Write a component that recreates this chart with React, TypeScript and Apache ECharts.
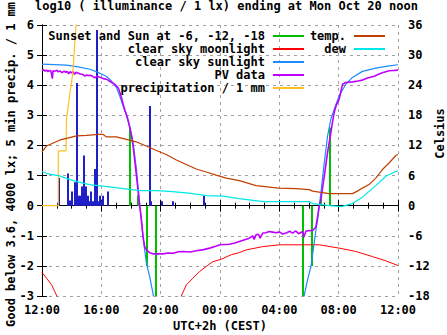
import React, { useEffect, useRef } from 'react';
import * as echarts from 'echarts';

const FONT = '"DejaVu Sans Mono", "Liberation Mono", monospace';

// hours since 12:00 (Sun) ... 24 = Mon 12:00
const xTicks = [0, 4, 8, 12, 16, 20, 24];

// Sunset / sun at -6, -12, -18 (impulses, log10 lx)
const sunEvents = [
  [5.96, 2.6], [6.47, 0.35], [7.08, -2.0], [7.67, -3.0],
  [17.57, -3.0], [18.17, -2.0], [18.8, 0.35], [19.4, 2.6],
];

const moonlight = [
  [0, -2.22], [0.31, -2.41], [0.65, -2.63], [1.0, -3.0], [1.2, -3.4], null,
  [9.2, -3.4], [9.39, -3.0], [9.73, -2.63], [10.17, -2.41], [10.62, -2.19], [11.07, -2.02],
  [11.52, -1.86], [12.08, -1.78], [12.75, -1.63], [13.3, -1.56], [13.76, -1.47],
  [14.88, -1.36], [16.0, -1.3], [18.69, -1.3], [20.03, -1.41], [21.15, -1.52],
  [22.27, -1.69], [23.17, -1.83], [24, -1.99],
];

const sunlight = [
  [0, 4.7], [1.66, 4.67], [2.33, 4.62], [3.23, 4.53], [3.9, 4.4], [4.35, 4.29],
  [4.69, 4.14], [5.02, 3.92], [5.24, 3.64], [5.47, 3.31], [5.69, 3.0], [5.92, 2.59],
  [6.14, 2.09], [6.37, 1.2], [6.47, 0.64], [6.59, 0.03], [6.7, -0.47], [6.81, -1.02],
  [6.92, -1.47], [7.04, -1.91], [7.26, -2.36], [7.48, -2.91], [7.6, -3.3], null,
  [17.6, -3.3], [17.68, -2.97], [17.9, -2.47], [18.13, -2.02], [18.35, -1.24],
  [18.47, -0.8], [18.58, -0.47], [18.69, -0.02], [18.8, 0.42], [19.03, 1.42],
  [19.25, 2.31], [19.47, 2.87], [19.7, 3.2], [20.03, 3.64], [20.48, 4.03],
  [20.93, 4.26], [21.6, 4.46], [22.5, 4.57], [23.4, 4.64], [24, 4.68],
];

const pvData = [
  [0, 4.5], [0.1, 4.52], [0.2, 4.47], [0.3, 4.5], [0.4, 4.45], [0.5, 4.49], [0.6, 4.47],
  [0.7, 4.22], [0.74, 4.48], [0.85, 4.46], [1.0, 4.5], [1.1, 4.44], [1.2, 4.48],
  [1.35, 4.42], [1.5, 4.47], [1.6, 4.43], [1.7, 4.46], [1.8, 4.38], [1.9, 4.45],
  [2.0, 4.41], [2.1, 4.45], [2.2, 4.36], [2.3, 4.43], [2.45, 4.4], [2.6, 4.37],
  [2.75, 4.36], [2.9, 4.3], [3.0, 4.34], [3.1, 4.32], [3.25, 4.33], [3.4, 4.3],
  [3.55, 4.24], [3.7, 4.3], [3.85, 4.27], [4.0, 4.25], [4.2, 4.21], [4.35, 4.2],
  [4.5, 4.15], [4.7, 4.09], [4.85, 4.05], [5.02, 3.98], [5.15, 3.9], [5.25, 3.76],
  [5.35, 3.6], [5.47, 3.37], [5.6, 3.15], [5.69, 3.03], [5.8, 2.85], [5.92, 2.6],
  [6.05, 2.3], [6.14, 1.98], [6.23, 1.6], [6.32, 1.2], [6.4, 0.85], [6.47, 0.53],
  [6.53, 0.25], [6.59, -0.02], [6.7, -0.47], [6.81, -1.02], [6.92, -1.36], [7.04, -1.47],
  [7.26, -1.56], [7.48, -1.6], [8.15, -1.6], [8.5, -1.57], [8.83, -1.58], [9.2, -1.53],
  [9.5, -1.52], [10.0, -1.54], [10.4, -1.5], [10.9, -1.46], [11.3, -1.41], [11.7, -1.35],
  [12.0, -1.3], [12.64, -1.28], [13.0, -1.24], [13.3, -1.19], [13.98, -1.08],
  [14.2, -1.0], [14.3, -1.12], [14.43, -0.97], [14.6, -0.95], [14.7, -1.08],
  [14.88, -0.91], [15.1, -0.9], [15.3, -0.86], [15.55, -0.88], [15.8, -0.9],
  [16.0, -0.87], [16.22, -0.94], [16.5, -0.9], [16.7, -0.85], [16.9, -0.91],
  [17.1, -0.84], [17.3, -0.93], [17.57, -0.86], [17.65, -1.05], [17.8, -0.84],
  [18.24, -0.82], [18.4, -0.75], [18.47, -0.69], [18.58, -0.36], [18.69, 0.0],
  [18.8, 0.2], [19.03, 0.98], [19.25, 1.76], [19.47, 2.42], [19.58, 2.76], [19.7, 3.1],
  [19.85, 3.35], [20.03, 3.53], [20.15, 3.8], [20.26, 4.03], [20.48, 4.09],
  [20.93, 4.11], [21.3, 4.14], [21.6, 4.17], [22.0, 4.25], [22.4, 4.3], [22.72, 4.37],
  [23.0, 4.42], [23.4, 4.48], [23.7, 4.49], [24, 4.5],
];

const precipTotal = [
  [0, 0], [1.1, 0], [1.1, 1.82], [1.62, 1.82], [1.65, 2.9], [1.77, 3.3], [1.88, 3.75],
  [2.0, 4.1], [2.1, 4.55], [2.17, 5.1], [2.26, 5.75], [2.33, 6.2], [2.4, 6.6],
];

// Celsius
const temperature = [
  [0, 10.7], [0.31, 11.9], [0.76, 12.5], [1.21, 13.1], [1.66, 13.4], [2.33, 13.9],
  [3.0, 14.0], [3.79, 14.2], [4.12, 14.2], [4.35, 13.7], [5.02, 13.7], [5.69, 13.2],
  [6.37, 12.7], [7.04, 11.9], [7.71, 11.0], [8.38, 10.2], [9.06, 9.1], [9.73, 8.2],
  [10.4, 7.3], [11.07, 6.7], [11.74, 6.1], [12.42, 5.5], [13.31, 5.0], [14.43, 4.0],
  [15.95, 3.5], [17.12, 3.4], [18.02, 3.2], [18.24, 2.9], [19.36, 2.4], [20.93, 2.4],
  [21.26, 2.9], [21.6, 3.5], [22.05, 4.2], [22.5, 5.5], [22.95, 7.2], [23.4, 8.5],
  [23.85, 10.0], [24, 10.2],
];

const dewPoint = [
  [0, 6.8], [0.32, 6.4], [1.1, 6.0], [1.5, 5.6], [2.1, 5.0], [2.5, 4.7], [3.2, 4.2],
  [4.4, 3.8], [5.5, 3.4], [6.6, 3.0], [7.7, 3.0], [8.8, 2.8], [9.9, 2.5], [11.1, 2.0],
  [12.2, 1.9], [13.3, 1.4], [14.9, 0.8], [18.0, 0.8], [18.25, 0.4], [19.4, 0.0],
  [20.2, -0.2], [20.9, 0.4], [21.6, 1.7], [22.5, 4.0], [23.2, 5.9], [23.85, 6.8], [24, 6.9],
];

// 5 min precipitation impulses
const precip5min = [
  [1.14, 0.92], [1.73, 1.07], [1.77, 0.47], [1.88, 0.17], [2.04, 0.47], [2.22, 0.78],
  [2.33, 0.47], [2.37, 4.07], [2.47, 0.33], [2.55, 0.33], [2.67, 0.64], [2.84, 1.67],
  [2.94, 0.64], [3.09, 0.33], [3.18, 0.15], [3.27, 0.15], [3.29, 0.47], [3.45, 0.15],
  [3.58, 1.22], [3.63, 1.22], [3.68, 5.83], [3.78, 0.15], [3.9, 0.33], [4.01, 0.15],
  [4.12, 0.33], [4.46, 0.47], [7.28, 3.31], [7.35, 0.15], [8.09, 0.15], [8.83, 0.15],
  [10.91, 0.33],
];

const C_GREEN = '#00c000';
const C_RED = '#ff0000';
const C_SUN = '#1a8cff';
const C_PV = '#c000ff';
const C_PRECIP = '#ffc020';
const C_TEMP = '#c04000';
const C_DEW = '#00e8e8';
const C_BARS = '#2020c8';

const impulse = (color: string, width: number) => (params: any, api: any) => {
  const x = api.value(0);
  const y = api.value(1);
  const p0 = api.coord([x, 0]);
  const p1 = api.coord([x, y]);
  const px = Math.round(p0[0]);
  return {
    type: 'line',
    shape: { x1: px, y1: p0[1], x2: px, y2: p1[1] },
    style: { stroke: color, lineWidth: width },
  };
};

const textBase = { fontFamily: FONT, fontSize: 12, fontWeight: 'bold' as const, color: '#000' };

const legendRow = (name: string, right: number, top: number) => ({
  show: true,
  right,
  top,
  orient: 'horizontal',
  align: 'right',
  itemWidth: 31,
  itemHeight: 2,
  padding: 0,
  itemGap: 0,
  selectedMode: false,
  textStyle: { ...textBase, padding: [0, 3, 0, 0] },
  data: [{ name, icon: 'rect' }],
});

const fmtHour = (v: number) => {
  const h = (12 + Math.round(v)) % 24;
  return (h < 10 ? '0' : '') + h + ':00';
};

export default function App() {
  const ref = useRef<HTMLDivElement>(null);
  useEffect(() => {
    const chart = echarts.init(ref.current!, null, { renderer: 'svg' });
    const lineSeries = (name: string, data: any[], color: string, width: number, yAxisIndex = 0) => ({
      name,
      type: 'line',
      data,
      yAxisIndex,
      color,
      itemStyle: { color },
      lineStyle: { color, width },
      showSymbol: false,
      symbol: 'none',
      connectNulls: false,
      clip: true,
    });
    const yLabel = {
      ...textBase,
      verticalAlignMinLabel: 'middle',
      verticalAlignMaxLabel: 'middle',
    };
    const option: any = {
      animation: false,
      backgroundColor: '#fff',
      title: {
        text: 'log10 ( illuminance / 1 lx) ending at Mon Oct 20 noon',
        left: 35,
        top: 0,
        padding: 0,
        textStyle: { ...textBase },
      },
      legend: [
        legendRow('Sunset and Sun at -6, -12, -18', 143, 30),
        legendRow('clear sky moonlight', 143, 43),
        legendRow('clear sky sunlight', 143, 56),
        legendRow('PV data', 143, 69),
        legendRow('precipitation / 1 mm', 143, 82),
        legendRow('temp.', 62, 30),
        legendRow('dew', 62, 43),
      ],
      grid: { left: 42, right: 49, top: 25, bottom: 39, containLabel: false, outerBoundsMode: 'none' },
      xAxis: [
        {
          type: 'value',
          min: 0,
          max: 24,
          interval: 4,
          position: 'bottom',
          name: 'UTC+2h (CEST)',
          nameLocation: 'middle',
          nameGap: 24,
          nameMoveOverlap: false,
          nameTextStyle: { ...textBase },
          axisLine: { lineStyle: { color: '#000', width: 1 } },
          axisTick: { inside: true, length: 6, lineStyle: { color: '#000' } },
          minorTick: { show: true, splitNumber: 4, length: 3, lineStyle: { color: '#000' } },
          axisLabel: {
            ...textBase,
            margin: 8,
            formatter: fmtHour,
            alignMinLabel: 'center',
            alignMaxLabel: 'center',
            hideOverlap: false,
          },
          splitLine: { show: true, lineStyle: { color: '#a0a0a0', type: [3, 4], width: 1 } },
        },
        {
          type: 'value',
          min: 0,
          max: 24,
          interval: 4,
          position: 'top',
          axisLine: { lineStyle: { color: '#000', width: 1 } },
          axisTick: { inside: true, length: 6, lineStyle: { color: '#000' } },
          minorTick: { show: true, splitNumber: 4, length: 3, lineStyle: { color: '#000' } },
          axisLabel: { show: false },
          splitLine: { show: false },
        },
      ],
      yAxis: [
        {
          type: 'value',
          min: -3,
          max: 6,
          interval: 1,
          position: 'left',
          name: 'Good below 3.6, 4000 lx; 5 min precip. / 1 mm',
          nameLocation: 'middle',
          nameGap: 25,
          nameMoveOverlap: false,
          nameTextStyle: { ...textBase, padding: [0, 8, 0, 0] },
          axisLine: { show: true, lineStyle: { color: '#000', width: 1 } },
          axisTick: { show: true, inside: true, length: 5, lineStyle: { color: '#000' } },
          axisLabel: { ...yLabel, margin: 8 },
          splitLine: { show: true, lineStyle: { color: '#a0a0a0', type: [3, 4], width: 1 } },
        },
        {
          type: 'value',
          min: -18,
          max: 36,
          interval: 6,
          position: 'right',
          name: 'Celsius',
          nameLocation: 'middle',
          nameGap: 36,
          nameMoveOverlap: false,
          nameTextStyle: { ...textBase, padding: [0, 0, 0, 54] },
          axisLine: { show: true, lineStyle: { color: '#000', width: 1 } },
          axisTick: { show: true, inside: true, length: 5, lineStyle: { color: '#000' } },
          axisLabel: { ...yLabel, margin: 10 },
          splitLine: { show: false },
        },
      ],
      series: [
        {
          name: 'Sunset and Sun at -6, -12, -18',
          type: 'custom',
          data: sunEvents,
          encode: { x: 0, y: 1 },
          renderItem: impulse(C_GREEN, 2),
          itemStyle: { color: C_GREEN },
          color: C_GREEN,
          clip: true,
        },
        lineSeries('clear sky moonlight', moonlight, C_RED, 1),
        lineSeries('clear sky sunlight', sunlight, C_SUN, 1.2),
        lineSeries('PV data', pvData, C_PV, 1.6),
        lineSeries('precipitation / 1 mm', precipTotal, C_PRECIP, 1.2),
        lineSeries('temp.', temperature, C_TEMP, 1.2, 1),
        lineSeries('dew', dewPoint, C_DEW, 1.2, 1),
        {
          name: '5 min precip',
          type: 'custom',
          data: precip5min,
          encode: { x: 0, y: 1 },
          renderItem: impulse(C_BARS, 2),
          itemStyle: { color: C_BARS },
          color: C_BARS,
          clip: true,
        },
      ],
    };
    chart.setOption(option);
    return () => chart.dispose();
  }, []);
  return (
    <div
      ref={ref}
      style={{ position: 'fixed', left: 0, top: 0, width: 447, height: 335, background: '#fff' }}
    />
  );
}
